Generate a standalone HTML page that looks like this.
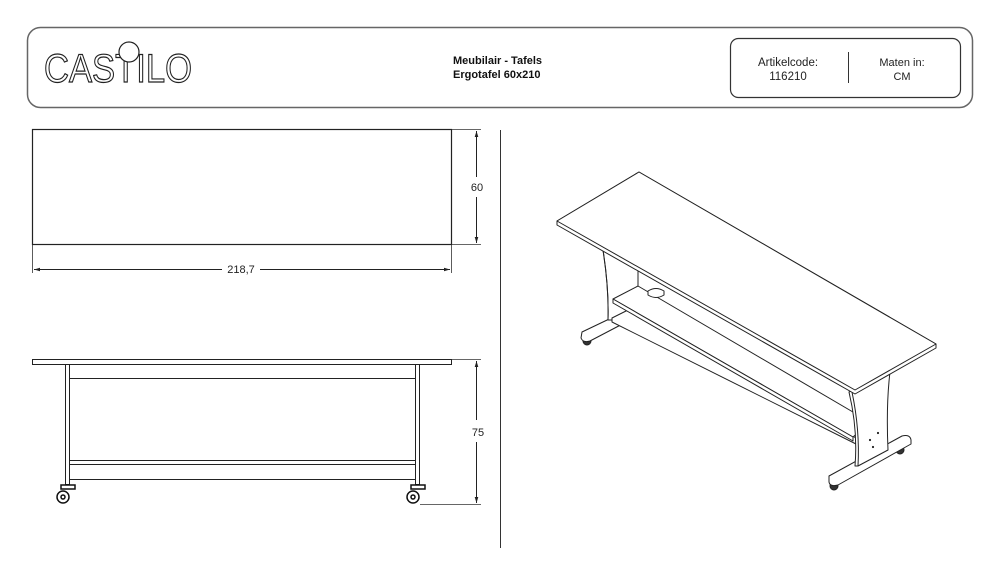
<!DOCTYPE html>
<html><head><meta charset="utf-8"><style>
html,body{margin:0;padding:0;background:#fff;}
svg{display:block;font-family:"Liberation Sans",Arial,sans-serif;}
</style></head><body>
<svg width="1000" height="563" viewBox="0 0 1000 563" xmlns="http://www.w3.org/2000/svg">
<defs>
<marker id="a" viewBox="0 0 10 10" refX="10" refY="5" markerWidth="6" markerHeight="6" orient="auto-start-reverse"><path d="M0,2 L10,5 L0,8z" fill="#222"/></marker>
</defs>
<!-- header -->
<rect x="27.5" y="27.5" width="945" height="80" rx="13" fill="#fff" stroke="#666" stroke-width="1.5"/>
<rect x="730.5" y="38.5" width="230" height="59" rx="8" fill="#fff" stroke="#333" stroke-width="1.2"/>
<line x1="848.5" y1="52" x2="848.5" y2="83" stroke="#333"/>
<text x="453" y="64" font-size="11" font-weight="bold" fill="#111">Meubilair - Tafels</text>
<text x="453" y="78" font-size="11" font-weight="bold" fill="#111">Ergotafel 60x210</text>
<text x="788" y="66" font-size="11.5" text-anchor="middle" fill="#222">Artikelcode:</text>
<text x="788" y="80" font-size="11.5" text-anchor="middle" fill="#222">116210</text>
<text x="902" y="66" font-size="11" text-anchor="middle" fill="#222">Maten in:</text>
<text x="902" y="80" font-size="11" text-anchor="middle" fill="#222">CM</text>
<!-- logo -->
<text x="44" y="82" font-size="40" fill="#fff" stroke="#222" stroke-width="1.2" textLength="148" lengthAdjust="spacingAndGlyphs">CASTILO</text>
<circle cx="129" cy="52" r="10" fill="#fff" stroke="#222" stroke-width="1.2"/>
<!-- divider -->
<line x1="500.5" y1="130" x2="500.5" y2="548" stroke="#333"/>
<!-- top view -->
<rect x="32.5" y="129.5" width="419" height="115" fill="none" stroke="#222" stroke-width="1.2"/>
<line x1="452" y1="129.5" x2="481" y2="129.5" stroke="#333" stroke-width="0.8"/>
<line x1="452" y1="244.5" x2="481" y2="244.5" stroke="#333" stroke-width="0.8"/>
<line x1="476.5" y1="131" x2="476.5" y2="177" stroke="#222" marker-start="url(#a)"/>
<line x1="476.5" y1="197" x2="476.5" y2="243" stroke="#222" marker-end="url(#a)"/>
<text x="477" y="191" font-size="11" text-anchor="middle" fill="#222">60</text>
<line x1="32.5" y1="245" x2="32.5" y2="273" stroke="#333" stroke-width="0.8"/>
<line x1="451.5" y1="245" x2="451.5" y2="273" stroke="#333" stroke-width="0.8"/>
<line x1="34" y1="269.5" x2="222" y2="269.5" stroke="#222" marker-start="url(#a)"/>
<line x1="260" y1="269.5" x2="450" y2="269.5" stroke="#222" marker-end="url(#a)"/>
<text x="241" y="273" font-size="11" text-anchor="middle" fill="#222">218,7</text>
<!-- front view -->
<rect x="32.5" y="359.5" width="419" height="5" fill="none" stroke="#222"/>
<rect x="65.5" y="364.5" width="4" height="120" fill="none" stroke="#222"/>
<rect x="415.5" y="364.5" width="4" height="120" fill="none" stroke="#222"/>
<line x1="70" y1="378.5" x2="415" y2="378.5" stroke="#222"/>
<line x1="70" y1="460.5" x2="415" y2="460.5" stroke="#222"/>
<line x1="70" y1="464.5" x2="415" y2="464.5" stroke="#222"/>
<line x1="70" y1="479.5" x2="415" y2="479.5" stroke="#222"/>
<g fill="#fff" stroke="#111" stroke-width="1.5">
<rect x="61" y="485" width="14" height="4"/><circle cx="63" cy="497" r="6"/><circle cx="63" cy="497" r="2"/>
<rect x="411" y="485" width="14" height="4"/><circle cx="413" cy="497" r="6"/><circle cx="413" cy="497" r="2"/>
</g>
<line x1="420" y1="504.5" x2="481" y2="504.5" stroke="#333" stroke-width="0.8"/>
<line x1="452" y1="359.5" x2="481" y2="359.5" stroke="#333" stroke-width="0.8"/>
<line x1="476.5" y1="361" x2="476.5" y2="420" stroke="#222" marker-start="url(#a)"/>
<line x1="476.5" y1="442" x2="476.5" y2="503" stroke="#222" marker-end="url(#a)"/>
<text x="478" y="436" font-size="11" text-anchor="middle" fill="#222">75</text>
<!-- iso view -->
<g fill="#fff" stroke="#222" stroke-width="1" stroke-linejoin="round">
<!-- left foot + caster -->
<circle cx="587" cy="341" r="4" fill="#333"/>
<path d="M582,332 L626,311 Q632,310 632,315 L632,319 L590,341 Q583,343 581,338z"/>
<!-- left leg -->
<path d="M602,244 L638,262 L638,306 L612,320 L608,320 Q609,285 602,244z"/>
<path d="M602,244 Q609,285 608,320" fill="none"/>
<!-- stretcher -->
<path d="M612,318 L632,308 L856,438 L856,444 L612,322z"/>
<!-- shelf -->
<path d="M613,299 L638,286 L870,422 L853,437z"/>
<path d="M613,299 L853,437 L853,441 L613,303z"/>
<path d="M648,291 Q656,286 664,291 L664,295 Q656,300 648,295z"/>
<!-- right foot + casters -->
<circle cx="834" cy="486" r="4" fill="#333"/>
<circle cx="900" cy="450" r="4" fill="#333"/>
<path d="M829,476 L902,436 Q910,434 911,440 L911,444 L838,485 Q830,487 829,482z"/>
<!-- right leg -->
<path d="M849,392 L890,372 Q886,405 888,450 L858,466 L855,466 Q858,430 849,392z"/>
<path d="M852,392 Q860,430 858,466" fill="none"/>
<circle cx="870" cy="440" r="0.6" fill="#333"/><circle cx="878" cy="433" r="0.6" fill="#333"/><circle cx="873" cy="447" r="0.6" fill="#333"/>
<!-- top -->
<path d="M557,221 L639,172 L936,344 L936,348 L855,394 L557,225z"/>
<path d="M557,221 L639,172 L936,344 L855,390z"/>
</g>
</svg>
</body></html>
